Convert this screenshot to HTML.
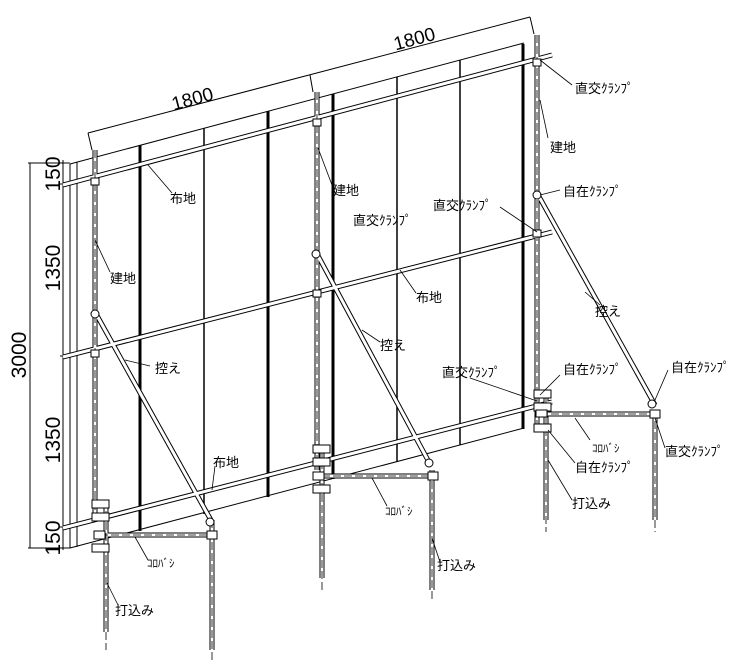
<!DOCTYPE html>
<html><head><meta charset="utf-8"><style>
html,body{margin:0;padding:0;background:#fff}
svg{display:block}
text{font-family:"Liberation Sans","Noto Sans CJK JP",sans-serif;fill:#000}
</style></head><body>
<svg width="746" height="669" viewBox="0 0 746 669" xmlns="http://www.w3.org/2000/svg">
<g stroke="#000" fill="none" stroke-width="1">
<line x1="70" y1="164" x2="524" y2="43"/>
<line x1="70" y1="548" x2="524" y2="428"/>
<line x1="70" y1="164" x2="70" y2="548"/>
<line x1="77" y1="162" x2="77" y2="547"/>
<line x1="204" y1="128" x2="204" y2="514" stroke-width="1.5"/>
<line x1="397" y1="77" x2="397" y2="462" stroke-width="1.5"/>
<line x1="460" y1="60" x2="460" y2="445" stroke-width="1.5"/>
<line x1="140" y1="145" x2="140" y2="531" stroke-width="3"/>
<line x1="268" y1="111" x2="268" y2="497" stroke-width="3"/>
<line x1="333" y1="94" x2="333" y2="479" stroke-width="3"/>
<line x1="523" y1="44" x2="523" y2="429" stroke-width="3"/>
<line x1="30" y1="163" x2="30" y2="548"/>
<line x1="63" y1="160" x2="63" y2="550"/>
<line x1="28" y1="163" x2="70" y2="163"/>
<line x1="60" y1="184" x2="70" y2="184"/>
<line x1="60" y1="356" x2="70" y2="356"/>
<line x1="60" y1="527" x2="70" y2="527"/>
<line x1="28" y1="548" x2="70" y2="548"/>
<line x1="88" y1="133" x2="530" y2="17"/>
<line x1="88" y1="133" x2="92" y2="150"/>
<line x1="310" y1="75" x2="313" y2="92"/>
<line x1="530" y1="17" x2="534" y2="34"/>
</g>
<g stroke-linecap="butt">
<g stroke="#000" stroke-width="5">
<line x1="63" y1="185" x2="552" y2="55"/>
<line x1="63" y1="357" x2="552" y2="232"/>
<line x1="63" y1="528" x2="552" y2="402"/>
<line x1="95" y1="150" x2="95" y2="515"/>
<line x1="317" y1="92" x2="317" y2="470"/>
<line x1="537" y1="35" x2="537" y2="430"/>
<line x1="106" y1="500" x2="106" y2="632"/>
<line x1="212" y1="520" x2="212" y2="650"/>
<line x1="322" y1="450" x2="322" y2="578"/>
<line x1="432" y1="470" x2="432" y2="590"/>
<line x1="546" y1="395" x2="546" y2="520"/>
<line x1="655" y1="410" x2="655" y2="520"/>
<line x1="100" y1="535" x2="216" y2="535"/>
<line x1="322" y1="476" x2="436" y2="476"/>
<line x1="540" y1="414" x2="660" y2="414"/>
<line x1="95" y1="312" x2="212" y2="522"/>
<line x1="316" y1="252" x2="430" y2="464"/>
<line x1="537" y1="193" x2="655" y2="405"/>
</g>
<g stroke="#fff" stroke-width="3">
<line x1="63" y1="185" x2="552" y2="55"/>
<line x1="63" y1="357" x2="552" y2="232"/>
<line x1="63" y1="528" x2="552" y2="402"/>
<line x1="95" y1="150" x2="95" y2="515"/>
<line x1="317" y1="92" x2="317" y2="470"/>
<line x1="537" y1="35" x2="537" y2="430"/>
<line x1="106" y1="500" x2="106" y2="632"/>
<line x1="212" y1="520" x2="212" y2="650"/>
<line x1="322" y1="450" x2="322" y2="578"/>
<line x1="432" y1="470" x2="432" y2="590"/>
<line x1="546" y1="395" x2="546" y2="520"/>
<line x1="655" y1="410" x2="655" y2="520"/>
<line x1="100" y1="535" x2="216" y2="535"/>
<line x1="322" y1="476" x2="436" y2="476"/>
<line x1="540" y1="414" x2="660" y2="414"/>
<line x1="95" y1="312" x2="212" y2="522"/>
<line x1="316" y1="252" x2="430" y2="464"/>
<line x1="537" y1="193" x2="655" y2="405"/>
</g>
<g stroke="#000" stroke-width="0.8" stroke-dasharray="8,3">
<line x1="95" y1="150" x2="95" y2="515"/>
<line x1="317" y1="92" x2="317" y2="470"/>
<line x1="537" y1="35" x2="537" y2="430"/>
<line x1="106" y1="500" x2="106" y2="650"/>
<line x1="212" y1="520" x2="212" y2="662"/>
<line x1="322" y1="450" x2="322" y2="592"/>
<line x1="432" y1="470" x2="432" y2="602"/>
<line x1="546" y1="395" x2="546" y2="532"/>
<line x1="655" y1="410" x2="655" y2="532"/>
<line x1="100" y1="535" x2="216" y2="535"/>
<line x1="322" y1="476" x2="436" y2="476"/>
<line x1="540" y1="414" x2="660" y2="414"/>
</g>
</g>
<g stroke="#000" fill="#fff" stroke-width="1">
<rect x="91" y="178" width="8" height="7"/><rect x="91" y="350" width="8" height="7"/>
<rect x="313" y="119" width="8" height="7"/><rect x="313" y="290" width="8" height="7"/>
<rect x="533" y="59" width="8" height="7"/><rect x="533" y="230" width="8" height="7"/>
<circle cx="95" cy="314" r="4"/><circle cx="316" cy="254" r="4"/><circle cx="537" cy="195" r="4"/>
<rect x="92" y="500" width="17" height="8"/><rect x="92" y="513" width="17" height="8"/><rect x="94" y="531" width="11" height="8"/><rect x="92" y="544" width="17" height="8"/>
<rect x="313" y="445" width="17" height="8"/><rect x="313" y="458" width="17" height="8"/><rect x="313" y="472" width="11" height="8"/><rect x="313" y="485" width="17" height="8"/>
<rect x="534" y="390" width="17" height="8"/><rect x="534" y="403" width="17" height="8"/><rect x="536" y="410" width="11" height="7"/><rect x="534" y="424" width="17" height="8"/>
<circle cx="210" cy="522" r="4"/><circle cx="429" cy="463" r="4"/><circle cx="652" cy="404" r="4"/>
<rect x="207" y="531" width="10" height="8"/><rect x="428" y="472" width="10" height="8"/><rect x="650" y="410" width="10" height="8"/>
</g>
<g stroke="#000" fill="none" stroke-width="0.8">
<polyline points="540,60 572,85"/><polyline points="540,100 548,138"/><polyline points="540,195 560,190"/>
<polyline points="537,232 500,207"/><polyline points="318,148 332,185"/><polyline points="148,165 172,193"/>
<polyline points="95,240 110,272"/><polyline points="400,270 416,293"/><polyline points="585,292 600,305"/>
<polyline points="362,330 380,342"/><polyline points="125,360 150,366"/><polyline points="537,401 470,378"/>
<polyline points="540,395 560,375"/><polyline points="655,400 668,370"/><polyline points="212,490 215,466"/>
<polyline points="575,418 590,440"/><polyline points="655,418 665,448"/><polyline points="548,430 575,463"/>
<polyline points="548,460 572,500"/><polyline points="372,478 387,506"/><polyline points="432,538 440,562"/>
<polyline points="135,537 148,560"/><polyline points="107,583 118,605"/>
</g>
<g font-size="21">
<text transform="translate(60,174) rotate(-90)" text-anchor="middle">150</text>
<text transform="translate(60,268) rotate(-90)" text-anchor="middle">1350</text>
<text transform="translate(26,355) rotate(-90)" text-anchor="middle">3000</text>
<text transform="translate(60,440) rotate(-90)" text-anchor="middle">1350</text>
<text transform="translate(60,538) rotate(-90)" text-anchor="middle">150</text>
</g>
<g font-size="19">
<text transform="translate(194,105) rotate(-15)" text-anchor="middle">1800</text>
<text transform="translate(416,45) rotate(-15)" text-anchor="middle">1800</text>
</g>
<g font-size="13">
<text x="575" y="93">直交ｸﾗﾝﾌﾟ</text>
<text x="550" y="152">建地</text>
<text x="563" y="196">自在ｸﾗﾝﾌﾟ</text>
<text x="433" y="210">直交ｸﾗﾝﾌﾟ</text>
<text x="353" y="225">直交ｸﾗﾝﾌﾟ</text>
<text x="333" y="195">建地</text>
<text x="170" y="203">布地</text>
<text x="110" y="283">建地</text>
<text x="416" y="302">布地</text>
<text x="595" y="316">控え</text>
<text x="380" y="350">控え</text>
<text x="155" y="373">控え</text>
<text x="442" y="377">直交ｸﾗﾝﾌﾟ</text>
<text x="563" y="374">自在ｸﾗﾝﾌﾟ</text>
<text x="671" y="372">自在ｸﾗﾝﾌﾟ</text>
<text x="213" y="467">布地</text>
<text x="592" y="452" font-size="11">ｺﾛﾊﾞｼ</text>
<text x="665" y="456">直交ｸﾗﾝﾌﾟ</text>
<text x="575" y="472">自在ｸﾗﾝﾌﾟ</text>
<text x="572" y="508">打込み</text>
<text x="385" y="515" font-size="11">ｺﾛﾊﾞｼ</text>
<text x="437" y="570">打込み</text>
<text x="147" y="567" font-size="11">ｺﾛﾊﾞｼ</text>
<text x="115" y="615">打込み</text>
</g>
</svg>
</body></html>
